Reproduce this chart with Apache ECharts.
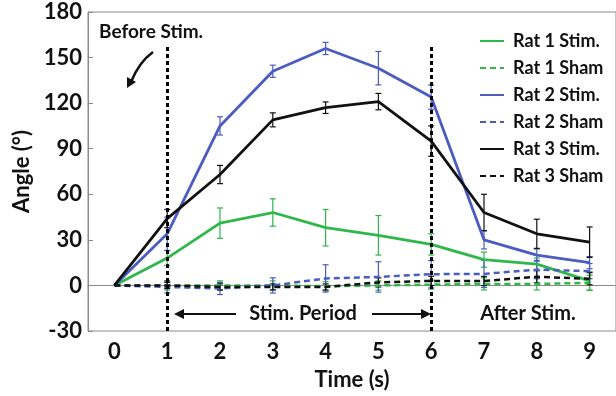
<!DOCTYPE html>
<html><head><meta charset="utf-8">
<script src="https://cdn.jsdelivr.net/npm/echarts@6/dist/echarts.min.js"></script>
<style>html,body{margin:0;padding:0;background:#fff}#c{width:616px;height:396px}</style>
</head><body><div id="c"></div>
<script>
var categories = ['0','1','2','3','4','5','6','7','8','9'];
var rat1Stim    = [0, 18, 41, 48, 38, 33, 27, 17, 14, 3];
var rat1StimErr = [0, 5, 10, 9, 12, 13, 7, 5, 4, 6];
var rat1Sham    = [0, 0, 0, 0, -0.5, 0, 0.5, 1, 1, 1.7];
var rat1ShamErr = [0, 3, 3, 3, 3, 3, 3, 4, 4, 5];
var rat2Stim    = [0, 34, 105, 141, 156, 143, 124, 30, 20, 15];
var rat2StimErr = [0, 11, 6, 4, 4, 11, 8, 6, 4, 4];
var rat2Sham    = [0, -1, -2, 0, 4.6, 5.6, 7.4, 7.6, 10.4, 9.4];
var rat2ShamErr = [0, 4, 4, 5, 9, 10, 9, 9, 6, 5];
var rat3Stim    = [0, 44, 73, 109, 117, 121, 95, 48, 34, 28.5];
var rat3StimErr = [0, 6, 6, 4.6, 3.8, 5.4, 10, 12, 9.6, 10];
var rat3Sham    = [0, 0, -1, -1, -1, 2, 3, 2.9, 5.7, 4.4];
var rat3ShamErr = [0, 2, 2, 2, 2, 3, 3, 3, 4, 4];
var yTicks = [-30, 0, 30, 60, 90, 120, 150, 180];

var GREEN = '#2fb74b', BLUE = '#4b5cc0', BLACK = '#111111';
var FONT = 'Lato';

function errData(v, e){ return v.map(function(x,i){ return [i, x - e[i], x + e[i]]; }).filter(function(d){ return d[2]-d[1] > 0; }); }
function errSeries(v, e, color){
  return {
    type: 'custom', silent: true, z: 1,
    renderItem: function(params, api){
      var i = api.value(0);
      var lo = api.coord([i, api.value(1)]);
      var hi = api.coord([i, api.value(2)]);
      var w = 3;
      var st = {stroke: color, lineWidth: 1.2};
      return {type:'group', children:[
        {type:'line', shape:{x1:lo[0],y1:lo[1],x2:hi[0],y2:hi[1]}, style:st},
        {type:'line', shape:{x1:lo[0]-w,y1:lo[1],x2:lo[0]+w,y2:lo[1]}, style:st},
        {type:'line', shape:{x1:hi[0]-w,y1:hi[1],x2:hi[0]+w,y2:hi[1]}, style:st}
      ]};
    },
    data: errData(v, e)
  };
}
function lineSeries(name, v, color, dashed){
  return {
    name: name, type: 'line', data: v, symbol: 'none', showSymbol: false, z: 3,
    lineStyle: {color: color, width: dashed ? 2.5 : 2.8, type: dashed ? [6,4] : 'solid'},
    itemStyle: {color: color}
  };
}

var chart = echarts.init(document.getElementById('c'));
var s1 = lineSeries('Rat 1 Stim.', rat1Stim, GREEN, false);
s1.markLine = {
  silent: true, symbol: ['none','none'], label: {show:false},
  lineStyle: {color: '#000', width: 3, type: [4,3]},
  data: [
    [{coord:[1, 157]}, {coord:[1, -30]}],
    [{coord:[6, 157]}, {coord:[6, -30]}]
  ]
};
var option = {
  animation: false,
  grid: {left: 88, top: 12, right: -7, bottom: 62.5, show: true, borderColor: '#8a8a8a', borderWidth: 1},
  xAxis: {
    type: 'category', data: categories, boundaryGap: true,
    axisLine: {lineStyle: {color: '#8a8a8a'}},
    axisTick: {inside: true, alignWithLabel: true, length: 5, lineStyle: {color: '#8a8a8a'}},
    axisLabel: {color: '#111', fontFamily: FONT, fontWeight: 'bold', fontSize: 22, margin: 10},
    name: 'Time (s)', nameLocation: 'middle', nameGap: 38,
    nameTextStyle: {color: '#111', fontFamily: FONT, fontWeight: 'bold', fontSize: 22}
  },
  yAxis: {
    type: 'value', min: -30, max: 180, interval: 30,
    splitLine: {show: false},
    axisLine: {show: true, lineStyle: {color: '#8a8a8a'}},
    axisTick: {show: true, inside: true, length: 5, lineStyle: {color: '#8a8a8a'}},
    axisLabel: {color: '#111', fontFamily: FONT, fontWeight: 'bold', fontSize: 22, margin: 6,
      customValues: yTicks},
    name: 'Angle (°)', nameLocation: 'middle', nameGap: 50,
    nameTextStyle: {color: '#111', fontFamily: FONT, fontWeight: 'bold', fontSize: 22}
  },
  legend: {
    orient: 'vertical', left: 474, top: 27, itemGap: 9, itemWidth: 24, itemHeight: 17,
    itemStyle: {opacity: 0},
    textStyle: {color: '#111', fontFamily: FONT, fontWeight: 'bold', fontSize: 18, padding: [0,0,0,4]},
    data: ['Rat 1 Stim.','Rat 1 Sham','Rat 2 Stim.','Rat 2 Sham','Rat 3 Stim.','Rat 3 Sham']
  },
  graphic: [
    {type:'text', left: 99, top: 22, style:{text:'Before Stim.', fill:'#111', font:'bold 19px Lato'}},
    {type:'bezierCurve', shape:{x1:153,y1:52,x2:131,y2:82,cpx1:142,cpy1:60,cpx2:135,cpy2:72}, style:{stroke:'#111', lineWidth:2.5, fill:null}},
    {type:'polygon', shape:{points:[[127,88],[127,77],[136,82]]}, style:{fill:'#111'}},
    {type:'text', x: 303, y: 314, style:{text:'Stim. Period', fill:'#111', font:'bold 20px Lato', align:'center', verticalAlign:'middle'}},
    {type:'line', shape:{x1:182,y1:314,x2:236,y2:314}, style:{stroke:'#111', lineWidth:2}},
    {type:'polygon', shape:{points:[[174,314],[184,309],[184,319]]}, style:{fill:'#111'}},
    {type:'line', shape:{x1:372,y1:314,x2:422,y2:314}, style:{stroke:'#111', lineWidth:2}},
    {type:'polygon', shape:{points:[[431,314],[421,309],[421,319]]}, style:{fill:'#111'}},
    {type:'text', x: 528, y: 314, style:{text:'After Stim.', fill:'#111', font:'bold 20px Lato', align:'center', verticalAlign:'middle'}}
  ],
  series: [
    errSeries(rat1Stim, rat1StimErr, GREEN),
    errSeries(rat1Sham, rat1ShamErr, GREEN),
    errSeries(rat2Stim, rat2StimErr, BLUE),
    errSeries(rat2Sham, rat2ShamErr, BLUE),
    errSeries(rat3Stim, rat3StimErr, BLACK),
    errSeries(rat3Sham, rat3ShamErr, BLACK),
    s1,
    lineSeries('Rat 1 Sham', rat1Sham, GREEN, true),
    lineSeries('Rat 2 Stim.', rat2Stim, BLUE, false),
    lineSeries('Rat 2 Sham', rat2Sham, BLUE, true),
    lineSeries('Rat 3 Stim.', rat3Stim, BLACK, false),
    lineSeries('Rat 3 Sham', rat3Sham, BLACK, true)
  ]
};
chart.setOption(option);
</script></body></html>
